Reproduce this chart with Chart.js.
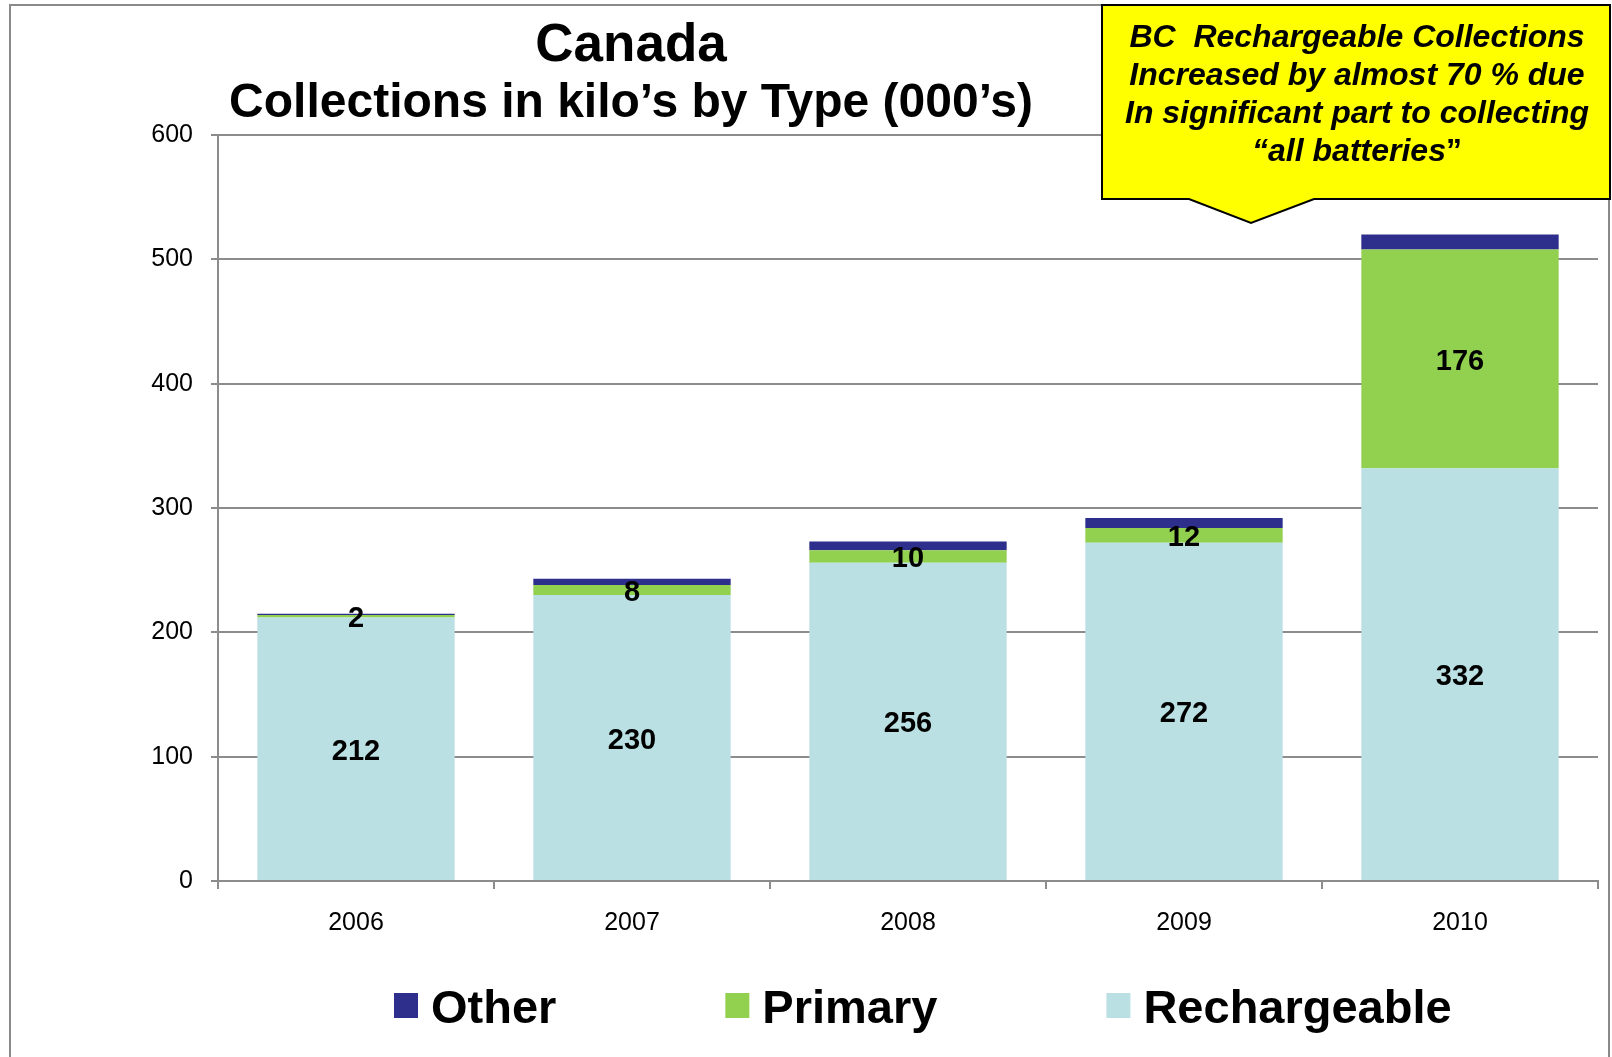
<!DOCTYPE html>
<html>
<head>
<meta charset="utf-8">
<script src="https://cdn.jsdelivr.net/npm/chart.js@4.4.1/dist/chart.umd.min.js"></script>
<style>
  html, body { margin: 0; padding: 0; background: #fff; }
  #wrap { width: 1612px; height: 1057px; position: relative; }
</style>
</head>
<body>
<div id="wrap"><canvas id="chart" width="1612" height="1057"></canvas></div>
<script>
// data (thousands of kg)
const years = ['2006', '2007', '2008', '2009', '2010'];
const rechargeable = [212, 230, 256, 272, 332];
const primary = [2, 8, 10, 12, 176];
const other = [1, 5, 7, 8, 12];
const yMax = 600, yStep = 100;

const titleLines = ['Canada', 'Collections in kilo\u2019s by Type (000\u2019s)'];
const noteLines = ['BC  Rechargeable Collections', 'Increased by almost 70 % due',
  'In significant part to collecting', '\u201Call batteries'];
const noteTail = '\u201D'; // closing quote is upright in the original
const legendOrder = ['Other', 'Primary', 'Rechargeable'];

const FONT = "'Liberation Sans', Arial, sans-serif";
const GRID = '#8c8c8c';

// frame, title, callout box, legend
const decor = {
  id: 'decor',
  beforeDraw(chart) {
    const ctx = chart.ctx;
    ctx.save();
    ctx.strokeStyle = '#8a8a8a'; ctx.lineWidth = 2;
    ctx.strokeRect(10, 5, 1599, 1100);
    ctx.restore();
  },
  afterDraw(chart) {
    const ctx = chart.ctx;
    ctx.save();
    ctx.fillStyle = '#000'; ctx.textAlign = 'center'; ctx.textBaseline = 'alphabetic';
    ctx.font = 'bold 53px ' + FONT; ctx.fillText(titleLines[0], 631, 61);
    ctx.font = 'bold 48px ' + FONT; ctx.fillText(titleLines[1], 631, 117);

    // yellow callout
    ctx.beginPath();
    ctx.moveTo(1102, 5); ctx.lineTo(1610, 5); ctx.lineTo(1610, 199);
    ctx.lineTo(1314, 199); ctx.lineTo(1251, 223); ctx.lineTo(1189, 199);
    ctx.lineTo(1102, 199); ctx.closePath();
    ctx.fillStyle = '#FFFF00'; ctx.fill();
    ctx.strokeStyle = '#000'; ctx.lineWidth = 2; ctx.stroke();
    ctx.fillStyle = '#000';
    const it = 'italic bold 32px ' + FONT, up = 'bold 32px ' + FONT;
    ctx.font = it;
    noteLines.slice(0, 3).forEach((t, i) => ctx.fillText(t, 1357, 47 + i * 38));
    const last = noteLines[3];
    const w1 = ctx.measureText(last).width;
    ctx.font = up;
    const w2 = ctx.measureText(noteTail).width;
    const x0 = 1357 - (w1 + w2) / 2;
    ctx.textAlign = 'left';
    ctx.font = it; ctx.fillText(last, x0, 47 + 3 * 38);
    ctx.font = up; ctx.fillText(noteTail, x0 + w1, 47 + 3 * 38);

    // legend
    const sets = chart.data.datasets;
    let x = 394;
    ctx.font = 'bold 47px ' + FONT;
    legendOrder.forEach(name => {
      const ds = sets.find(d => d.label === name);
      ctx.fillStyle = ds.backgroundColor;
      ctx.fillRect(x, 993, 24, 25);
      ctx.fillStyle = '#000';
      ctx.fillText(name, x + 37, 1023);
      x += 37 + ctx.measureText(name).width + 169;
    });
    ctx.restore();
  }
};

// segment value labels
const valueLabels = {
  id: 'valueLabels',
  afterDatasetsDraw(chart) {
    const ctx = chart.ctx;
    ctx.save();
    ctx.font = 'bold 29px ' + FONT;
    ctx.fillStyle = '#000'; ctx.textAlign = 'center'; ctx.textBaseline = 'middle';
    chart.data.datasets.forEach((ds, di) => {
      if (!ds.showValues) return;
      chart.getDatasetMeta(di).data.forEach((bar, i) => {
        const p = bar.getProps(['x', 'y', 'base'], true);
        ctx.fillText(String(ds.data[i]), p.x, (p.y + p.base) / 2 + 3);
      });
    });
    ctx.restore();
  }
};

new Chart(document.getElementById('chart'), {
  type: 'bar',
  data: {
    labels: years,
    datasets: [
      { label: 'Rechargeable', data: rechargeable, backgroundColor: '#BAE0E3', showValues: true },
      { label: 'Primary', data: primary, backgroundColor: '#92D050', showValues: true },
      { label: 'Other', data: other, backgroundColor: '#2E2E8C' }
    ]
  },
  options: {
    responsive: false,
    animation: false,
    devicePixelRatio: 1,
    layout: { padding: { top: 135, left: 0, right: 14, bottom: 0 } },
    datasets: { bar: { categoryPercentage: 1, barPercentage: 0.715 } },
    plugins: { legend: { display: false }, title: { display: false }, tooltip: { enabled: false } },
    scales: {
      x: {
        stacked: true,
        afterFit: s => { s.height = 176; },
        grid: { display: true, drawOnChartArea: false, offset: true, tickLength: 8, color: GRID, lineWidth: 2 },
        border: { color: GRID, width: 2 },
        ticks: { color: '#000', font: { family: FONT, size: 25 }, padding: 19 }
      },
      y: {
        stacked: true,
        min: 0, max: yMax,
        afterFit: s => { s.width = 218; },
        grid: { color: GRID, lineWidth: 2, tickLength: 7 },
        border: { color: GRID, width: 2 },
        ticks: { stepSize: yStep, color: '#000', font: { family: FONT, size: 25 }, padding: 18 }
      }
    }
  },
  plugins: [decor, valueLabels]
});
</script>
</body>
</html>
